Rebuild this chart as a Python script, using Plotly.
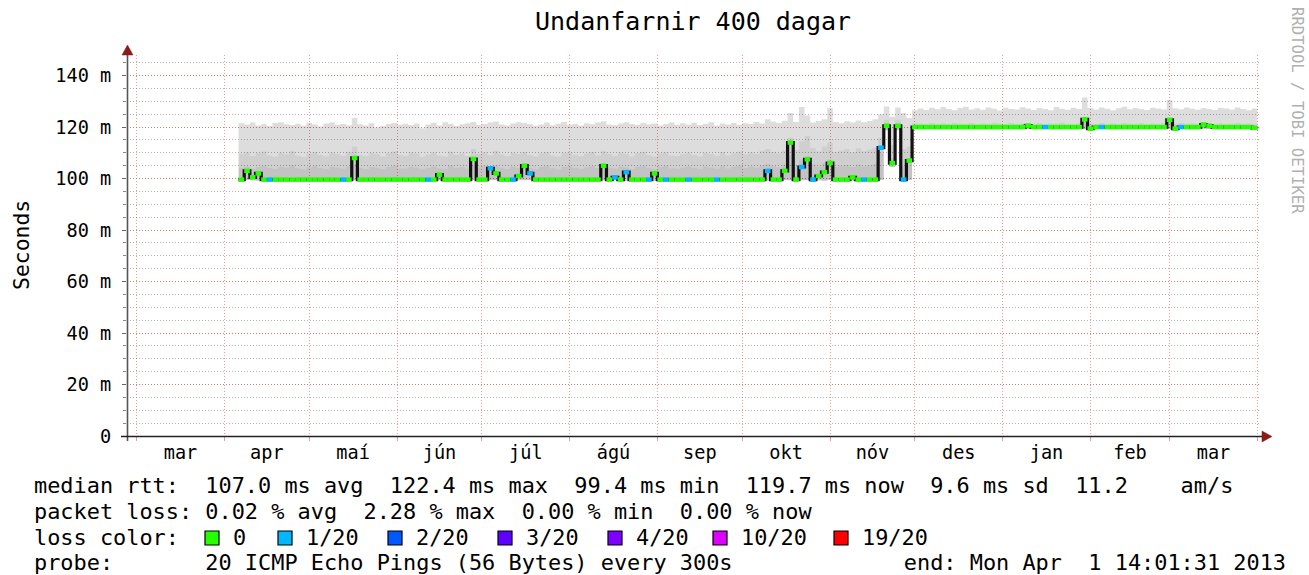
import pandas as pd
import plotly.graph_objects as go

# ---------------- geometry of the picture (pixels) ----------------
W, H = 1309, 575
PL, PR, PT, PB = 127, 1259, 55, 436

# ---------------- axis data ----------------
x_start = "2012-02-26 14:01:31"
x_end = "2013-04-01 14:01:31"
month_starts = ["2012-03-01", "2012-04-01", "2012-05-01", "2012-06-01", "2012-07-01",
                "2012-08-01", "2012-09-01", "2012-10-01", "2012-11-01", "2012-12-01",
                "2013-01-01", "2013-02-01", "2013-03-01", "2013-04-01"]
month_labels = ["mar", "apr", "maí", "jún", "júl", "ágú", "sep", "okt", "nóv",
                "des", "jan", "feb", "mar"]
y_ticks = [0, 20, 40, 60, 80, 100, 120, 140]
y_ticktext = ["0", "20 m", "40 m", "60 m", "80 m", "100 m", "120 m", "140 m"]

# ---------------- series (2-day bins from 2012-04-06, values in ms) ----------------
bin_start = "2012-04-06"
n_bins = 180

median_rtt = [
    99.6, 103.0, 100.5, 102.0, 99.6, 99.6, 99.6, 99.6, 99.6, 99.6,
    99.6, 99.6, 99.6, 99.6, 99.6, 99.6, 99.6, 99.6, 99.6, 99.6,
    108.0, 99.6, 99.6, 99.6, 99.6, 99.6, 99.6, 99.6, 99.6, 99.6,
    99.6, 99.6, 99.6, 99.6, 99.6, 101.5, 99.6, 99.6, 99.6, 99.6,
    99.6, 107.6, 99.6, 99.6, 104.0, 102.0, 99.6, 99.6, 99.6, 101.0,
    105.0, 102.0, 99.6, 99.6, 99.6, 99.6, 99.6, 99.6, 99.6, 99.6,
    99.6, 99.6, 99.6, 99.6, 105.0, 99.6, 100.5, 99.6, 102.5, 99.6,
    99.6, 99.6, 99.6, 102.0, 99.6, 99.6, 99.6, 99.6, 99.6, 99.6,
    99.6, 99.6, 99.6, 99.6, 99.6, 99.6, 99.6, 99.6, 99.6, 99.6,
    99.6, 99.6, 99.6, 103.0, 99.6, 99.6, 103.0, 114.0, 99.6, 104.5,
    107.5, 99.6, 101.0, 102.5, 106.0, 99.6, 99.6, 99.6, 100.5, 99.6,
    99.6, 99.6, 99.6, 112.0, 120.5, 106.0, 120.5, 99.6, 107.0, 120.0,
    120.0, 120.0, 120.0, 120.0, 120.0, 120.0, 120.0, 120.0, 120.0, 120.0,
    120.0, 120.0, 120.0, 120.0, 120.0, 120.0, 120.0, 120.0, 120.0, 120.6,
    120.0, 120.0, 120.0, 120.0, 120.0, 120.0, 120.0, 120.0, 120.0, 123.0,
    119.4, 120.0, 120.0, 120.0, 120.0, 120.0, 120.0, 120.0, 120.0, 120.0,
    120.0, 120.0, 120.0, 120.0, 122.8, 119.4, 120.0, 120.0, 120.0, 120.0,
    121.0, 120.5, 120.0, 120.0, 120.0, 120.0, 120.0, 120.0, 120.0, 119.7,
]

lost_pings = [
    0, 0, 0, 0, 0, 1, 0, 0, 0, 0,
    0, 0, 0, 0, 0, 0, 0, 0, 1, 0,
    0, 0, 0, 0, 0, 0, 0, 0, 0, 0,
    0, 0, 0, 1, 0, 0, 0, 0, 0, 0,
    0, 0, 0, 0, 1, 0, 0, 0, 1, 0,
    0, 1, 0, 0, 0, 0, 0, 0, 0, 0,
    0, 0, 0, 0, 0, 0, 1, 0, 1, 0,
    0, 0, 1, 0, 0, 1, 0, 0, 0, 1,
    0, 0, 0, 0, 1, 0, 0, 0, 0, 0,
    0, 0, 0, 1, 0, 0, 0, 0, 0, 1,
    0, 1, 0, 0, 0, 0, 0, 0, 0, 0,
    1, 0, 0, 1, 0, 0, 0, 1, 0, 0,
    0, 0, 0, 0, 0, 0, 0, 0, 0, 0,
    0, 0, 0, 0, 0, 0, 0, 0, 0, 0,
    0, 0, 1, 0, 0, 0, 0, 0, 0, 0,
    0, 0, 1, 0, 0, 0, 0, 0, 0, 0,
    0, 0, 0, 0, 0, 0, 1, 0, 0, 0,
    0, 0, 0, 0, 0, 0, 0, 0, 0, 0,
]

ping_min = [
    99.3, 99.4, 99.3, 99.2, 99.4, 99.3, 99.3, 99.4, 99.2, 99.3,
    99.4, 99.3, 99.2, 99.3, 99.4, 99.3, 99.3, 99.2, 99.4, 99.3,
    99.3, 99.4, 99.3, 99.2, 99.3, 99.4, 99.3, 99.3, 99.2, 99.4,
    99.3, 99.3, 99.4, 99.2, 99.3, 99.3, 99.4, 99.3, 99.2, 99.3,
    99.4, 99.3, 99.3, 99.2, 99.4, 99.3, 99.3, 99.4, 99.2, 99.3,
    99.3, 99.4, 99.3, 99.2, 99.3, 99.4, 99.3, 99.3, 99.2, 99.4,
    99.3, 99.3, 99.4, 99.2, 99.3, 99.3, 99.4, 99.3, 99.2, 99.3,
    99.4, 99.3, 99.3, 99.2, 99.4, 99.3, 99.3, 99.4, 99.2, 99.3,
    99.3, 99.4, 99.3, 99.2, 99.3, 99.4, 99.3, 99.3, 99.2, 99.4,
    99.3, 99.3, 99.4, 99.2, 99.3, 99.3, 99.4, 99.3, 99.2, 99.3,
    99.4, 99.3, 99.3, 99.2, 99.4, 99.3, 99.3, 99.4, 99.2, 99.3,
    99.3, 99.4, 99.3, 99.4, 118.8, 104.5, 118.8, 99.3, 99.4, 119.3,
    119.3, 119.4, 119.3, 119.2, 119.3, 119.4, 119.3, 119.3, 119.2, 119.4,
    119.3, 119.3, 119.4, 119.2, 119.3, 119.3, 119.4, 119.3, 119.2, 119.3,
    119.4, 119.3, 119.3, 119.2, 119.4, 119.3, 119.3, 119.4, 119.2, 119.3,
    119.3, 119.4, 119.3, 119.2, 119.3, 119.4, 119.3, 119.3, 119.2, 119.4,
    119.3, 119.3, 119.4, 119.2, 119.3, 119.3, 119.4, 119.3, 119.2, 119.3,
    119.4, 119.3, 119.3, 119.2, 119.4, 119.3, 119.3, 119.4, 119.2, 119.3,
]

smoke_inner = [
    104.2, 104.8, 103.9, 104.5, 105.0, 104.1, 103.7, 104.6, 104.3, 105.2,
    104.0, 103.6, 104.4, 104.9, 104.2, 103.8, 104.7, 104.3, 103.9, 104.8,
    105.5, 104.1, 103.7, 104.6, 104.2, 103.8, 104.5, 105.0, 104.0, 103.9,
    104.7, 104.3, 103.6, 104.1, 104.8, 104.0, 103.8, 105.1, 104.2, 104.5,
    103.9, 105.4, 104.4, 104.9, 104.0, 105.2, 104.3, 103.8, 104.7, 104.2,
    104.9, 104.1, 103.7, 104.5, 105.0, 104.0, 103.6, 104.6, 104.8, 104.2,
    103.8, 104.4, 104.9, 104.1, 105.3, 104.3, 103.9, 104.7, 104.4, 103.7,
    104.6, 105.0, 104.2, 103.7, 104.5, 104.9, 104.0, 103.8, 104.3, 104.8,
    104.1, 103.7, 104.7, 104.3, 103.9, 105.0, 104.0, 104.6, 105.1, 104.2,
    104.8, 104.3, 105.2, 105.8, 104.9, 104.4, 105.6, 109.0, 105.3, 107.5,
    109.0, 105.5, 104.8, 106.0, 107.5, 104.6, 105.0, 105.4, 104.5, 105.6,
    104.8, 105.2, 105.8, 110.0, 121.5, 108.0, 121.5, 105.0, 106.0, 120.8,
    120.7, 120.6, 120.8, 120.6, 120.7, 120.5, 120.8, 120.6, 120.7, 120.8,
    120.6, 120.7, 120.5, 120.8, 120.6, 120.7, 120.8, 120.6, 120.5, 120.7,
    120.6, 120.8, 120.7, 120.6, 120.7, 120.8, 120.5, 120.6, 120.7, 122.5,
    120.7, 120.6, 120.8, 120.5, 120.7, 120.6, 120.8, 120.7, 120.6, 120.7,
    120.6, 120.8, 120.7, 120.5, 122.2, 120.7, 120.6, 120.8, 120.7, 120.6,
    121.3, 120.8, 120.6, 120.7, 120.5, 120.8, 120.7, 120.6, 120.8, 120.6,
]

smoke_middle = [
    109.5, 110.2, 108.8, 109.9, 110.5, 109.1, 108.6, 110.0, 109.4, 110.8,
    109.0, 108.5, 109.7, 110.3, 109.2, 108.7, 110.1, 109.6, 108.9, 110.4,
    112.5, 109.3, 108.8, 110.0, 109.5, 108.6, 109.9, 110.6, 109.2, 108.9,
    110.2, 109.7, 108.5, 109.4, 110.1, 109.0, 108.7, 110.5, 109.3, 109.8,
    108.9, 111.5, 109.6, 110.2, 109.1, 110.7, 109.4, 108.8, 110.0, 109.5,
    110.3, 109.2, 108.7, 109.8, 110.4, 109.0, 108.6, 109.9, 110.2, 109.3,
    108.8, 109.7, 110.3, 109.1, 110.8, 109.5, 108.9, 110.1, 109.6, 108.7,
    109.9, 110.4, 109.2, 108.6, 109.8, 110.2, 109.0, 108.8, 109.5, 110.1,
    109.3, 108.7, 110.0, 109.6, 108.9, 110.3, 109.1, 109.8, 110.5, 109.4,
    110.2, 109.6, 110.8, 111.5, 110.4, 109.8, 111.0, 116.0, 111.2, 114.5,
    116.5, 112.0, 110.6, 112.5, 114.0, 110.4, 110.9, 111.5, 110.2, 111.8,
    110.7, 111.3, 112.0, 116.0, 122.8, 113.0, 122.8, 111.5, 112.5, 121.5,
    121.4, 121.2, 121.6, 121.3, 121.5, 121.2, 121.7, 121.4, 121.3, 121.6,
    121.2, 121.5, 121.3, 121.7, 121.4, 121.2, 121.6, 121.3, 121.5, 121.4,
    121.3, 121.6, 121.2, 121.5, 121.4, 121.7, 121.3, 121.2, 121.5, 124.0,
    121.4, 121.2, 121.6, 121.3, 121.5, 121.2, 121.7, 121.4, 121.3, 121.6,
    121.2, 121.5, 121.3, 121.7, 123.8, 121.4, 121.6, 121.3, 121.5, 121.2,
    122.0, 121.6, 121.3, 121.5, 121.2, 121.4, 121.7, 121.3, 121.5, 121.2,
]

ping_max = [
    121.5, 121.0, 121.8, 120.6, 121.2, 120.4, 121.6, 121.9, 121.1, 120.8,
    121.3, 120.5, 121.7, 121.0, 120.2, 121.4, 121.8, 120.9, 121.2, 120.7,
    123.5, 121.1, 120.6, 121.5, 119.8, 120.4, 121.2, 121.6, 120.9, 121.3,
    120.8, 121.4, 119.5, 121.0, 121.7, 120.6, 121.9, 121.3, 120.4, 121.1,
    121.5, 122.0, 120.8, 121.2, 121.8, 122.2, 121.0, 120.6, 121.4, 121.9,
    121.6, 121.2, 120.5, 121.0, 121.8, 120.7, 121.3, 122.0, 120.9, 121.2,
    120.6, 121.5, 121.1, 121.8, 122.3, 121.0, 120.7, 121.4, 121.9, 121.2,
    120.8, 121.6, 121.1, 121.4, 120.6, 121.2, 121.8, 120.9, 121.5, 121.0,
    121.7, 120.8, 121.3, 121.9, 120.6, 121.4, 121.0, 121.6, 120.9, 121.5,
    121.2, 122.0, 121.4, 123.0, 122.2, 121.6, 122.5, 125.5, 122.0, 127.8,
    124.5, 121.8, 122.4, 123.0, 127.4, 122.0, 121.5, 122.3, 121.8, 122.6,
    121.9, 122.4, 123.0, 125.0, 128.0, 124.0, 127.6, 125.5, 123.5, 126.5,
    127.2, 126.6, 127.5, 126.9, 127.8, 127.0, 126.5, 127.4, 127.9, 126.8,
    127.3, 126.7, 127.6, 127.1, 126.4, 127.5, 127.0, 126.8, 127.7, 127.2,
    126.6, 127.4, 127.0, 126.5, 127.8, 127.1, 126.7, 127.5, 127.0, 131.5,
    127.4, 126.8, 127.6, 127.1, 126.5, 127.3, 127.9, 126.9, 127.4, 127.0,
    126.6, 127.5, 127.2, 126.8, 130.5, 127.3, 126.9, 127.6, 127.1, 126.7,
    127.4, 127.0, 126.6, 127.5, 127.2, 126.8, 127.6, 127.0, 126.5, 127.2,
]

# ---------------- legend texts ----------------
title_text = "Undanfarnir 400 dagar"
y_title = "Seconds"
watermark = "RRDTOOL / TOBI OETIKER"
legend_lines = [
    "median rtt:  107.0 ms avg  122.4 ms max  99.4 ms min  119.7 ms now  9.6 ms sd  11.2    am/s",
    "packet loss: 0.02 % avg  2.28 % max  0.00 % min  0.00 % now",
    "loss color:",
    "probe:       20 ICMP Echo Pings (56 Bytes) every 300s             end: Mon Apr  1 14:01:31 2013",
]
loss_levels = [0, 1, 2, 3, 4, 10, 19]
loss_names = ["0", "1/20", "2/20", "3/20", "4/20", "10/20", "19/20"]
loss_colors = ["#26ff00", "#00b8ff", "#0059ff", "#5e00ff", "#7e00ff", "#dd00ff", "#ff0000"]

# ---------------- styles ----------------
MONO = "DejaVu Sans Mono"
SMOKE_INNER = "rgba(0,0,0,0.235)"
SMOKE_MIDDLE = "rgba(0,0,0,0.19)"
SMOKE_OUTER = "rgba(0,0,0,0.135)"
MGRID = "rgba(235,80,80,0.6)"
GRID = "rgba(120,120,120,0.55)"
ARROW = "#8b1a1a"
LEG_SIZE = 21.9


def fx(p):
    return (p - PL) / (PR - PL)


def fy(p):
    return (PB - p) / (PB - PT)


def nb(s):
    return s.replace(" ", "\u00a0")


edges = list(pd.date_range(bin_start, periods=n_bins + 1, freq="2D"))


def stepped(vals):
    return list(vals) + [vals[-1]]


fig = go.Figure()

# smoke bands
fig.add_trace(go.Scatter(x=edges, y=stepped(ping_min), mode="lines",
                         line=dict(width=0, shape="hv"), hoverinfo="skip"))
for vals, col in [(smoke_inner, SMOKE_INNER), (smoke_middle, SMOKE_MIDDLE), (ping_max, SMOKE_OUTER)]:
    fig.add_trace(go.Scatter(x=edges, y=stepped(vals), mode="lines", fill="tonexty",
                             fillcolor=col, line=dict(width=0, shape="hv"), hoverinfo="skip"))

# median connecting line
fig.add_trace(go.Scatter(x=edges, y=stepped(median_rtt), mode="lines",
                         line=dict(width=3.2, color="#111111", shape="hv"), hoverinfo="skip"))

# loss coloured median segments
for lvl, col in zip(loss_levels, loss_colors):
    xs, ys = [], []
    for i in range(n_bins):
        if lost_pings[i] == lvl:
            xs += [edges[i], edges[i + 1], None]
            ys += [median_rtt[i], median_rtt[i], None]
    if xs:
        fig.add_trace(go.Scatter(x=xs, y=ys, mode="lines", connectgaps=False,
                                 line=dict(width=4.5, color=col), hoverinfo="skip"))

# month label positions: middle of each month
ms = pd.to_datetime(month_starts)
label_pos = [ms[i] + (ms[i + 1] - ms[i]) / 2 for i in range(len(ms) - 1)]

fig.update_xaxes(
    type="date", range=[x_start, x_end],
    tickmode="array", tickvals=label_pos, ticktext=month_labels,
    ticks="", showgrid=False, showline=False, zeroline=False,
    tickfont=dict(family=MONO, size=18.6, color="#000"),
    ticklabelstandoff=3,
    minor=dict(tickmode="array", tickvals=list(ms), showgrid=True, gridcolor=MGRID,
               griddash="1px,2px", gridwidth=1, ticks="outside", ticklen=4,
               tickcolor="rgba(235,80,80,0.6)"),
)
fig.update_yaxes(
    range=[0, 148], tickmode="array", tickvals=y_ticks, ticktext=y_ticktext,
    showgrid=True, gridcolor=MGRID, griddash="1px,2px", gridwidth=1,
    ticks="outside", ticklen=4, tickcolor="#666", showline=False, zeroline=False,
    tickfont=dict(family=MONO, size=18.6, color="#000"),
    ticklabelstandoff=7,
    minor=dict(dtick=5, tick0=0, showgrid=True, gridcolor=GRID, griddash="1px,2px",
               gridwidth=1, ticks="outside", ticklen=3, tickcolor="#888"),
)

shapes = []
# y axis line + arrow
shapes.append(dict(type="line", xref="paper", yref="paper", x0=fx(127.5), x1=fx(127.5),
                   y0=fy(441), y1=fy(52), line=dict(color="#555", width=1.6)))
shapes.append(dict(type="path", xref="paper", yref="paper",
                   path=f"M {fx(127.5)},{fy(45)} L {fx(122)},{fy(55)} L {fx(133)},{fy(55)} Z",
                   fillcolor=ARROW, line=dict(color=ARROW, width=0.5)))
# x axis line + arrow
shapes.append(dict(type="line", xref="paper", yref="paper", x0=fx(121), x1=fx(1263),
                   y0=fy(436.5), y1=fy(436.5), line=dict(color="#222", width=1.6)))
shapes.append(dict(type="path", xref="paper", yref="paper",
                   path=f"M {fx(1272)},{fy(436.5)} L {fx(1262)},{fy(431)} L {fx(1262)},{fy(442)} Z",
                   fillcolor=ARROW, line=dict(color=ARROW, width=0.5)))

annotations = []
annotations.append(dict(text=nb(title_text), x=fx(693), y=fy(21), xref="paper", yref="paper",
                        showarrow=False, xanchor="center", yanchor="middle",
                        font=dict(family=MONO, size=25, color="#000")))
annotations.append(dict(text=nb(y_title), x=fx(21), y=fy(245), xref="paper", yref="paper",
                        showarrow=False, textangle=-90, xanchor="center", yanchor="middle",
                        font=dict(family=MONO, size=21.4, color="#000")))
annotations.append(dict(text=nb(watermark), x=fx(1297), y=fy(110), xref="paper", yref="paper",
                        showarrow=False, textangle=90, xanchor="center", yanchor="middle",
                        font=dict(family=MONO, size=15.6, color="#b0b0b0")))

line_y = [485, 511, 537.5, 562.5]
for txt, ly in zip(legend_lines, line_y):
    annotations.append(dict(text=nb(txt), x=fx(32), y=fy(ly), xref="paper", yref="paper",
                            showarrow=False, xanchor="left", yanchor="middle",
                            font=dict(family=MONO, size=LEG_SIZE, color="#000")))

box_x = [205, 278, 388, 498, 608, 713, 834]
for bx, name, col in zip(box_x, loss_names, loss_colors):
    shapes.append(dict(type="rect", xref="paper", yref="paper", x0=fx(bx), x1=fx(bx + 14),
                       y0=fy(545), y1=fy(531), fillcolor=col, line=dict(color="#000", width=1.2)))
    annotations.append(dict(text=nb(name), x=fx(bx + 26), y=fy(537.5), xref="paper", yref="paper",
                            showarrow=False, xanchor="left", yanchor="middle",
                            font=dict(family=MONO, size=LEG_SIZE, color="#000")))

fig.update_layout(
    width=W, height=H, autosize=False,
    margin=dict(l=PL, r=W - PR, t=PT, b=H - PB, pad=0),
    paper_bgcolor="white", plot_bgcolor="white",
    showlegend=False, shapes=shapes, annotations=annotations,
)

fig.write_html("out.html", config={"displayModeBar": False},
               post_script="document.body.style.margin='0';")
